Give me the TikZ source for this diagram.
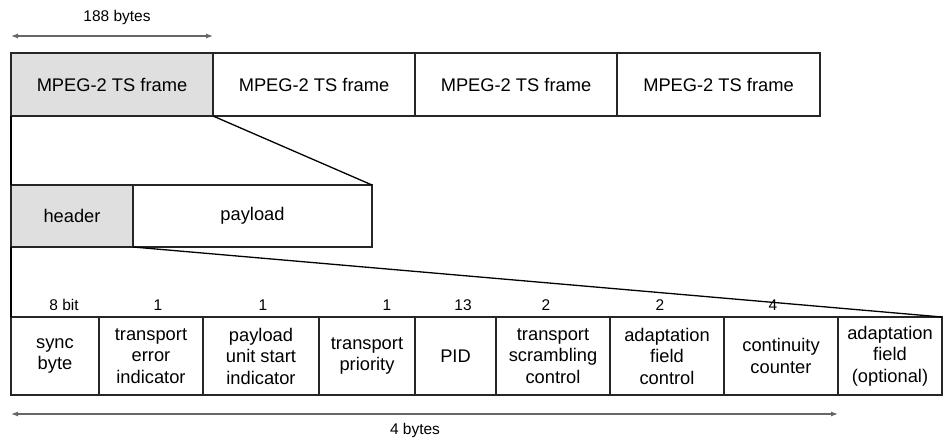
\documentclass[tikz,border=0pt]{standalone}
\usepackage{fontspec}
\setmainfont{Liberation Sans}
\usetikzlibrary{arrows.meta}
\begin{document}
\begin{tikzpicture}[x=1pt,y=-1pt,
 cell/.style={draw=black!85, line width=1.3pt, inner sep=0pt, outer sep=0pt, anchor=north west, align=center, font=\fontsize{18.3}{21.5}\selectfont},
 shaded/.style={fill=gray!25},
 num/.style={font=\fontsize{15.5}{18}\selectfont, anchor=base, inner sep=0pt},
 dimlabel/.style={font=\fontsize{15.5}{18}\selectfont, inner sep=0pt},
 dimarrow/.style={draw=black!60, line width=1.2pt, {Latex[length=7pt,width=5pt]}-{Latex[length=7pt,width=5pt]}},
 zoomline/.style={draw=black, line width=1.3pt}]
\useasboundingbox (0,0) rectangle (943,439);
% frames
\node[cell,shaded,minimum width=202pt,minimum height=63pt] (f1) at (11,53) {MPEG-2 TS frame};
\node[cell,minimum width=202pt,minimum height=63pt] (f2) at (213,53) {MPEG-2 TS frame};
\node[cell,minimum width=202pt,minimum height=63pt] (f3) at (415,53) {MPEG-2 TS frame};
\node[cell,minimum width=203pt,minimum height=63pt] (f4) at (617,53) {MPEG-2 TS frame};
% header/payload
\node[cell,shaded,minimum width=122pt,minimum height=62pt] (hdr) at (11,185) {header};
\node[cell,minimum width=239pt,minimum height=62pt] (pay) at (133,185) {payload};
% fields
\node[cell,minimum width=88pt,minimum height=78pt] (b1) at (11,317) {sync\\byte};
\node[cell,minimum width=104pt,minimum height=78pt] (b2) at (99,317) {transport\\error\\indicator};
\node[cell,minimum width=116pt,minimum height=78pt] (b3) at (203,317) {payload\\unit start\\indicator};
\node[cell,minimum width=96pt,minimum height=78pt] (b4) at (319,317) {transport\\priority};
\node[cell,minimum width=81pt,minimum height=78pt] (b5) at (415,317) {PID};
\node[cell,minimum width=114pt,minimum height=78pt] (b6) at (496,317) {transport\\scrambling\\control};
\node[cell,minimum width=114pt,minimum height=78pt] (b7) at (610,317) {adaptation\\field\\control};
\node[cell,minimum width=114pt,minimum height=78pt] (b8) at (724,317) {continuity\\counter};
\node[cell,minimum width=104pt,minimum height=78pt] (b9) at (838,317) {adaptation\\field\\(optional)};
% bit counts
\node[num] (n1) at (64,310) {8 bit};
\node[num] (n2) at (158,310) {1};
\node[num] (n3) at (263,310) {1};
\node[num] (n4) at (387,310) {1};
\node[num] (n5) at (463,310) {13};
\node[num] (n6) at (546,310) {2};
\node[num] (n7) at (660,310) {2};
\node[num] (n8) at (773,310) {4};
% zoom lines
\draw[zoomline] (f1.south west) -- (hdr.north west);
\draw[zoomline] (hdr.south west) -- (b1.north west);
\draw[zoomline] (f1.south east) -- (pay.north east);
\draw[zoomline] (hdr.south east) -- (b9.north east);
% dimension arrows
\coordinate (t1) at (11,36);
\coordinate (t2) at (213,36);
\draw[dimarrow] (t1) -- (t2);
\node[dimlabel] (l1) at (117,17) {188 bytes};
\coordinate (u1) at (11,414);
\coordinate (u2) at (838,414);
\draw[dimarrow] (u1) -- (u2);
\node[dimlabel] (l2) at (415,430) {4 bytes};
\end{tikzpicture}
\end{document}
